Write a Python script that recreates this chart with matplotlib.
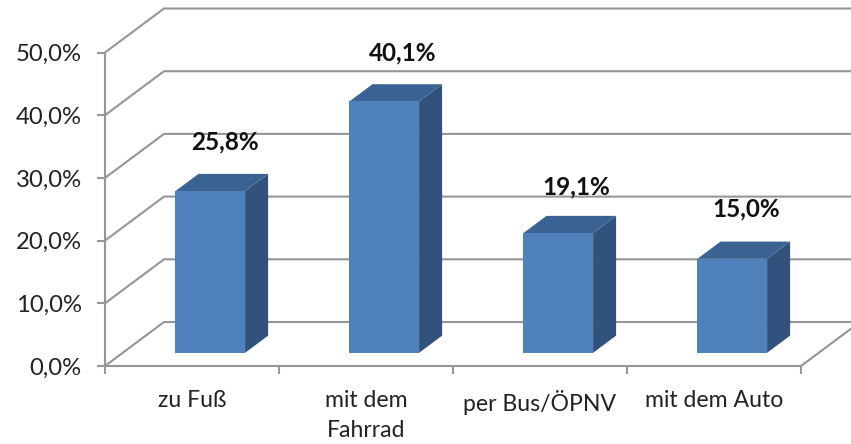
import matplotlib
matplotlib.use('Agg')
import matplotlib.pyplot as plt
from matplotlib.patches import Polygon

categories = ['zu Fuß', 'mit dem\nFahrrad', 'per Bus/ÖPNV', 'mit dem Auto']
values = [25.8, 40.1, 19.1, 15.0]
value_labels = ['25,8%', '40,1%', '19,1%', '15,0%']
y_ticks = [0, 10, 20, 30, 40, 50]
y_tick_labels = ['0,0%', '10,0%', '20,0%', '30,0%', '40,0%', '50,0%']

W, H = 851, 444
GREY = '#969696'
FRONT = '#4F81BD'
SIDE = '#30527C'
TOP = '#3A6293'
LW = 1.5

# schiefe Projektion: Tiefe der Wand in Datenwerten
depth_x = 59 / 174
depth_y = 44 / 6.27
bar_w = 0.40
bar_start = 0.31
bar_depth = 0.39

# Versatz der Beschriftung über der Säule (Pixel)
label_dx = [15, 18, 18, 14]
label_dy = [49, 48, 46, 50]

plt.rcParams['font.family'] = ['Lato', 'DejaVu Sans']

fig = plt.figure(figsize=(W / 100, H / 100), dpi=100)
ax = fig.add_axes([105 / W, (H - 366) / H, 696 / W, 313.5 / H])
ax.set_xlim(0, 4)
ax.set_ylim(0, 50)
ax.patch.set_visible(False)

for s in ['top', 'right']:
    ax.spines[s].set_visible(False)
for s in ['left', 'bottom']:
    ax.spines[s].set_color(GREY)
    ax.spines[s].set_linewidth(LW)

# Wand und Boden
for t in y_ticks:
    ax.plot([0, depth_x, 4 + depth_x], [t, t + depth_y, t + depth_y],
            color=GREY, lw=LW, clip_on=False, zorder=1, solid_joinstyle='miter')
ax.plot([4, 4 + depth_x], [0, depth_y], color=GREY, lw=LW, clip_on=False, zorder=1)

# Säulen
for i, v in enumerate(values):
    x0 = i + 0.5 - bar_w / 2 + bar_start * depth_x
    x1 = x0 + bar_w
    y0 = 0.30 * depth_y
    y1 = y0 + v
    dx = bar_depth * depth_x
    dy = bar_depth * depth_y
    ax.add_patch(Polygon([(x1, y0), (x1 + dx, y0 + dy), (x1 + dx, y1 + dy), (x1, y1)],
                         fc=SIDE, ec='none', clip_on=False, zorder=3))
    ax.add_patch(Polygon([(x0, y1), (x1, y1), (x1 + dx, y1 + dy), (x0 + dx, y1 + dy)],
                         fc=TOP, ec='none', clip_on=False, zorder=3))
    ax.add_patch(Polygon([(x0, y0), (x1, y0), (x1, y1), (x0, y1)],
                         fc=FRONT, ec='none', clip_on=False, zorder=4))
    ax.annotate(value_labels[i], ((x0 + x1) / 2, y1), xytext=(label_dx[i], label_dy[i]),
                textcoords='offset pixels', ha='center', va='center',
                fontsize=17.5, fontweight='bold', color='#111111', zorder=5)

ax.set_yticks(y_ticks)
ax.set_yticklabels(y_tick_labels, fontsize=17.2, color='#222222')
ax.tick_params(axis='y', length=5.8, width=LW, color=GREY, pad=11)

ax.set_xticks([0, 1, 2, 3, 4])
ax.set_xticklabels([])
ax.tick_params(axis='x', which='major', length=5.8, width=LW, color=GREY)
ax.set_xticks([0.5, 1.5, 2.5, 3.5], minor=True)
ax.set_xticklabels(categories, minor=True, fontsize=16.6, color='#222222', linespacing=1.55)
ax.tick_params(axis='x', which='minor', length=0, pad=17)

fig.savefig('out.png', dpi=100)
